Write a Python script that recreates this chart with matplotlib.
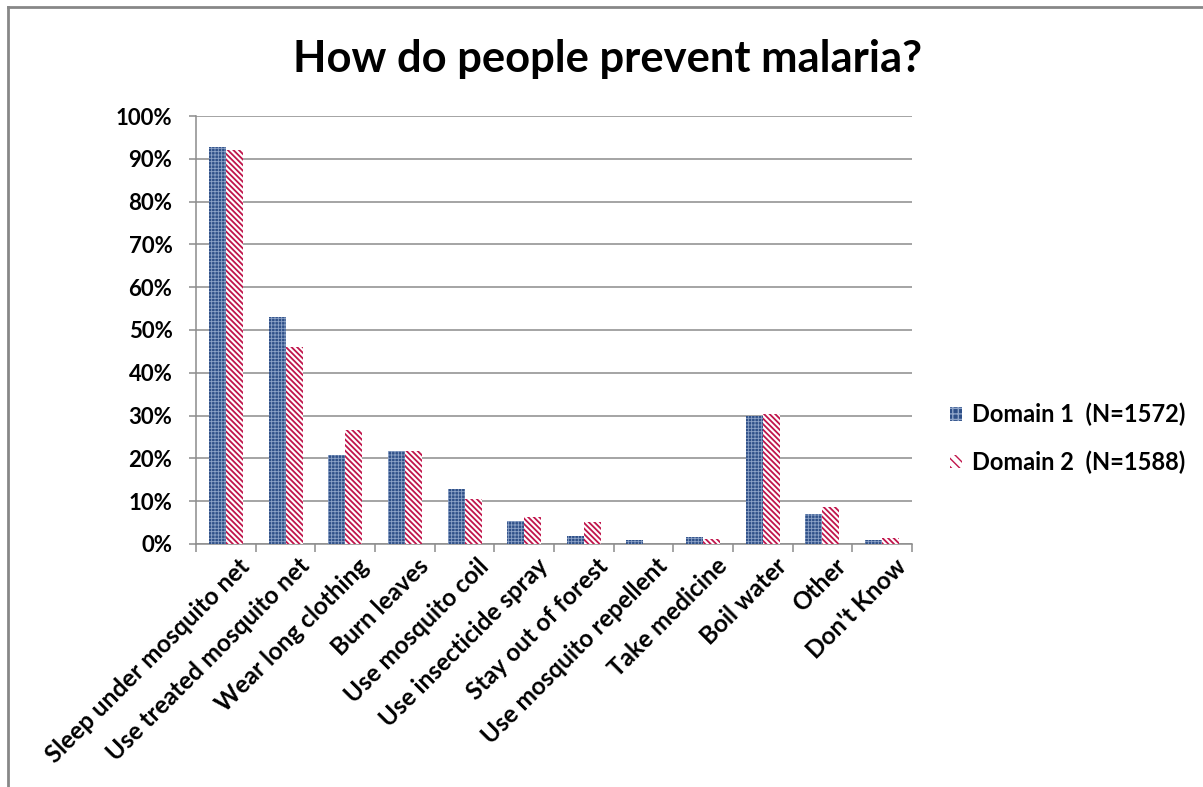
import numpy as np
import matplotlib
matplotlib.use("Agg")
import matplotlib.pyplot as plt
from matplotlib.patches import Patch
from matplotlib.ticker import FuncFormatter, MultipleLocator

plt.rcParams["font.family"] = ["Lato", "DejaVu Sans"]
plt.rcParams["font.weight"] = "bold"

categories = [
    "Sleep under mosquito net", "Use treated mosquito net", "Wear long clothing",
    "Burn leaves", "Use mosquito coil", "Use insecticide spray", "Stay out of forest",
    "Use mosquito repellent", "Take medicine", "Boil water", "Other", "Don't Know",
]
domain1 = [92.7, 53.1, 20.9, 21.7, 12.9, 5.4, 1.9, 0.9, 1.6, 29.9, 7.1, 0.9]
domain2 = [92.1, 46.1, 26.6, 21.7, 10.5, 6.2, 5.1, 0.0, 1.2, 30.4, 8.6, 1.3]
labels = ["Domain 1  (N=1572)", "Domain 2  (N=1588)"]

BLUE = "#2F5088"
BLUE_DOT = "#8EA4C8"
RED = "#C0154B"
GRID = "#8C8C8C"

fig = plt.figure(figsize=(12.03, 7.87), dpi=100)
ax = fig.add_axes([0.163, 0.3088, 0.595, 0.5438])

x = np.arange(len(categories))
w = 0.285

with plt.rc_context({"hatch.linewidth": 0.6}):
    ax.bar(x - w / 2, domain1, w, facecolor=BLUE, edgecolor=BLUE_DOT,
           hatch="+++++", linewidth=0, zorder=3)
with plt.rc_context({"hatch.linewidth": 1.3}):
    ax.bar(x + w / 2, domain2, w, facecolor="white", edgecolor=RED,
           hatch="\\\\\\\\\\\\", linewidth=0, zorder=3)

ax.set_xlim(-0.5, len(categories) - 0.5)
ax.set_ylim(0, 100)
ax.yaxis.set_major_locator(MultipleLocator(10))
ax.yaxis.set_major_formatter(FuncFormatter(lambda v, _: f"{v:.0f}%"))
ax.grid(True, axis="y", color=GRID, linewidth=1.1, zorder=0)

for side in ["top", "right"]:
    ax.spines[side].set_visible(False)
for side in ["left", "bottom"]:
    ax.spines[side].set_color(GRID)
    ax.spines[side].set_linewidth(1.1)

# category ticks sit on the group boundaries, labels sit under the centres
ax.set_xticks(np.arange(len(categories) + 1) - 0.5)
ax.set_xticklabels([])
ax.tick_params(axis="x", length=6, color=GRID, width=1.1)
ax.tick_params(axis="y", length=5, color=GRID, width=1.1, labelsize=16, pad=12)
for i, name in enumerate(categories):
    ax.text(i + 0.2, -2.4, name, rotation=45, ha="right", va="top",
            rotation_mode="anchor", fontsize=17.5, fontweight="bold",
            transform=ax.transData)

fig.text(0.505, 0.925, "How do people prevent malaria?", ha="center", va="center",
         fontsize=31.3, fontweight="bold")

handles = [
    Patch(facecolor=BLUE, edgecolor=BLUE_DOT, hatch="+++", linewidth=0),
    Patch(facecolor="white", edgecolor=RED, hatch="\\\\\\\\", linewidth=0),
]
fig.legend(handles, labels, loc="center left", bbox_to_anchor=(0.772, 0.443),
           frameon=False, fontsize=17, handlelength=0.5, handleheight=0.5,
           handletextpad=0.45, labelspacing=1.0)

# chart frame, only the top and left edges fall inside the image
fig.add_artist(plt.Line2D([0.007, 1.0], [0.991, 0.991], color="#878787",
                          linewidth=2, transform=fig.transFigure))
fig.add_artist(plt.Line2D([0.007, 0.007], [0.0, 0.991], color="#878787",
                          linewidth=2, transform=fig.transFigure))

fig.savefig("out.png", dpi=100, facecolor="white")
